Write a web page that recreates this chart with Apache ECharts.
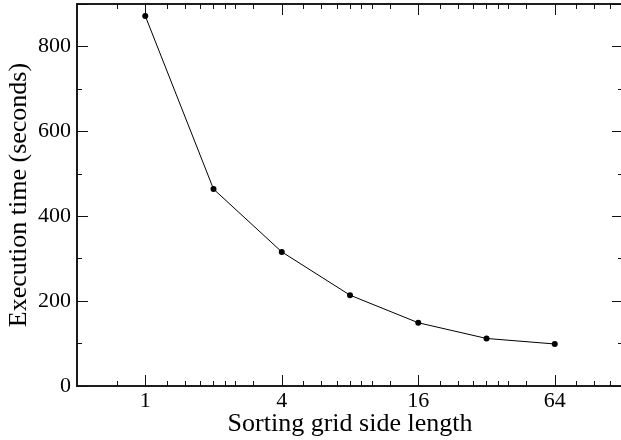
<!DOCTYPE html>
<html>
<head>
<meta charset="utf-8">
<script src="https://cdn.jsdelivr.net/npm/echarts@6/dist/echarts.min.js"></script>
<style>html,body{margin:0;padding:0;background:#fff}#c{width:621px;height:440px}</style>
</head>
<body>
<div id="c"></div>
<script>
const sideLength = [1, 2, 4, 8, 16, 32, 64];
const execTime = [872, 464, 316, 214, 149, 112, 99];
const xMajorTicks = [1, 4, 16, 64];
const xMinorTicks = [0.75, 1.25, 1.5, 1.75, 2, 2.25, 2.5, 3, 5, 6, 7, 8, 9, 10, 12, 20, 24, 28, 32, 36, 40, 48, 80, 96, 112];
const yTicks = [0, 200, 400, 600, 800];

const FONT = 'Liberation Serif';
const chart = echarts.init(document.getElementById('c'), null, {renderer: 'canvas'});
const gridRect = {left: 77, top: 4, width: 546, height: 382, outerBoundsMode: 'none', containLabel: false};
const axisLineStyle = {color: '#111', width: 1.6};
const tickStyle = {color: '#111', width: 1};

function xAx(gridIndex, position, ticks, len, showLabel, name) {
  return {
    type: 'log', logBase: 2, min: 0.5, max: 128, gridIndex, position,
    name: name || '', nameLocation: 'middle', nameGap: 25, nameMoveOverlap: false,
    nameTextStyle: {fontFamily: FONT, fontSize: 26, color: '#000'},
    axisLine: {show: true, onZero: false, lineStyle: axisLineStyle},
    axisTick: {show: true, inside: true, length: len, customValues: ticks, lineStyle: tickStyle},
    axisLabel: {show: showLabel, customValues: ticks, margin: 4, fontFamily: FONT, fontSize: 22, color: '#000',
      formatter: v => String(Math.round(v))},
    splitLine: {show: false}, minorTick: {show: false}
  };
}
function yAx(gridIndex, position, showLabel, name, minor) {
  return {
    type: 'value', min: 0, max: 900, interval: 200, gridIndex, position,
    name: name || '', nameLocation: 'middle', nameGap: 45, nameMoveOverlap: false,
    nameTextStyle: {fontFamily: FONT, fontSize: 26, color: '#000'},
    axisLine: {show: true, onZero: false, lineStyle: axisLineStyle},
    axisTick: {show: !minor, inside: true, length: 11, lineStyle: tickStyle},
    minorTick: {show: !!minor, splitNumber: 2, length: 5, lineStyle: tickStyle},
    axisLabel: {show: showLabel, margin: 6, fontFamily: FONT, fontSize: 22, color: '#000',
      formatter: v => v > 850 ? '' : String(v)},
    splitLine: {show: false}
  };
}

chart.setOption({
  animation: false,
  backgroundColor: '#fff',
  grid: [Object.assign({}, gridRect), Object.assign({}, gridRect)],
  xAxis: [
    xAx(0, 'bottom', xMajorTicks, 11, true, 'Sorting grid side length'),
    xAx(0, 'top', xMajorTicks, 11, false),
    xAx(1, 'bottom', xMinorTicks, 5, false),
    xAx(1, 'top', xMinorTicks, 5, false)
  ],
  yAxis: [
    yAx(0, 'left', true, 'Execution time (seconds)', false),
    yAx(0, 'right', false, '', false),
    yAx(1, 'left', false, '', true),
    yAx(1, 'right', false, '', true)
  ],
  series: [{
    type: 'line', xAxisIndex: 0, yAxisIndex: 0,
    data: sideLength.map((n, i) => [n, execTime[i]]),
    symbol: 'circle', symbolSize: 6, showSymbol: true,
    itemStyle: {color: '#000'},
    lineStyle: {color: '#000', width: 1}
  }]
});
</script>
</body>
</html>
